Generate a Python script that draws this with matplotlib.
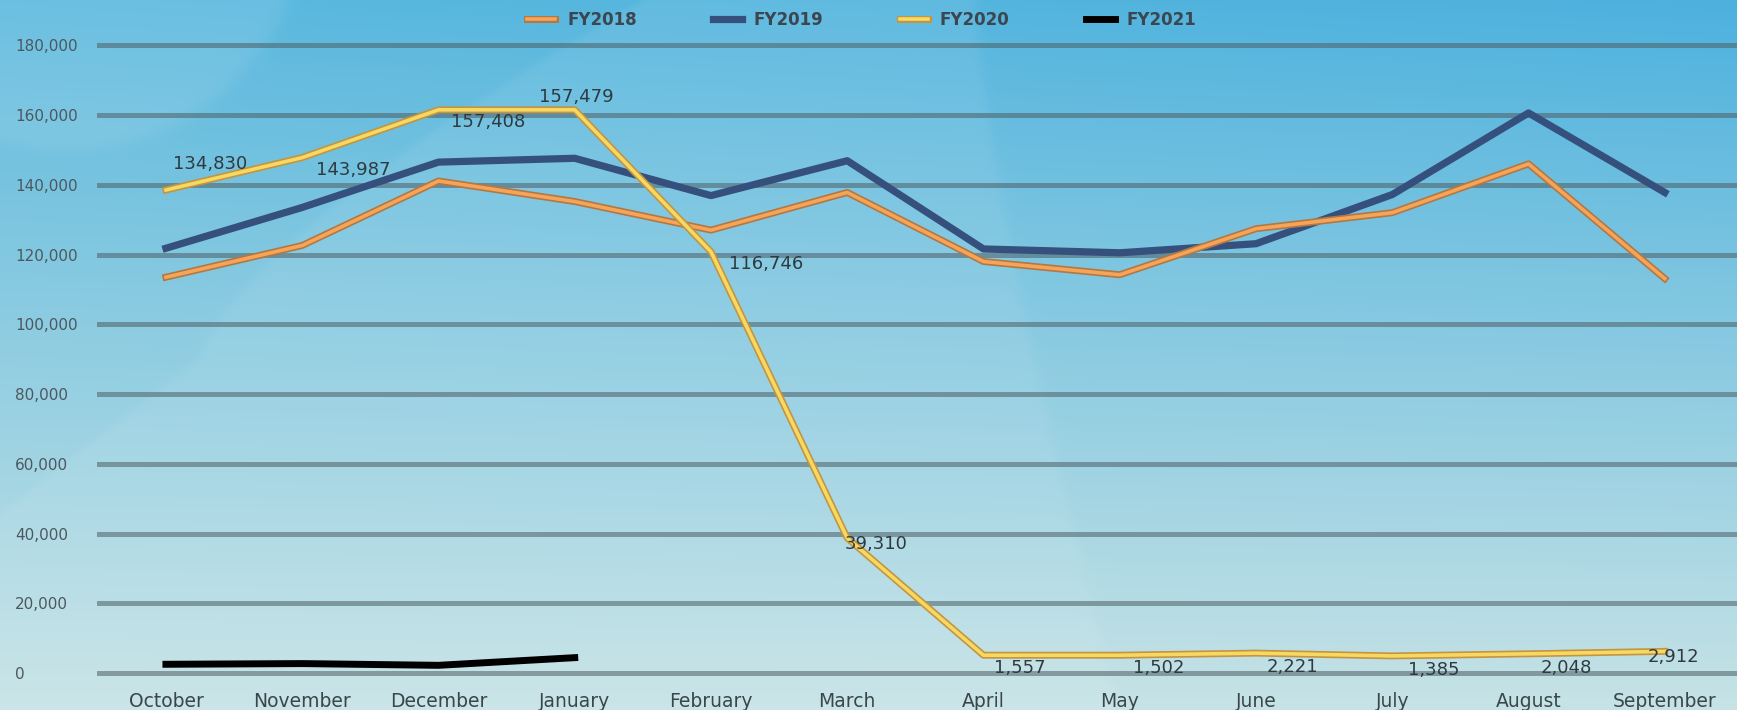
import numpy as np
import matplotlib
matplotlib.use('Agg')
import matplotlib.pyplot as plt
import matplotlib.patheffects as pe

# ---------------- data ----------------
months = ['October', 'November', 'December', 'January', 'February', 'March',
          'April', 'May', 'June', 'July', 'August', 'September']
fy2018 = [113500, 122600, 141100, 135200, 127000, 137800,
          118000, 114200, 127400, 132000, 146000, 113100]
fy2019 = [121800, 133500, 146500, 147600, 136900, 146900,
          121600, 120500, 123100, 137200, 160600, 137800]
fy2020 = [138500, 147800, 161500, 161500, 120800, 38700,
          5100, 5100, 5700, 4900, 5500, 6200]
fy2020_labels = ['134,830', '143,987', '157,408', '157,479', '116,746', '39,310',
                 '1,557', '1,502', '2,221', '1,385', '2,048', '2,912']
fy2021 = [2500, 2700, 2200, 4400]
yticks = list(range(0, 180001, 20000))

# label offsets (points) - styling
label_offsets = [(32, 19), (37, -9), (36, -9), (1, 9), (40, -9), (21, -4),
                 (26, -9), (28, -9), (26, -10), (30, -10), (27, -10), (6, -4)]

W, H = 1737, 710
fig = plt.figure(figsize=(W / 100, H / 100), dpi=100)

# ---------------- background ----------------
yy, xx = np.mgrid[0:H, 0:W].astype(float)
t = yy / (H - 1)
top = np.array([0.33, 0.71, 0.87])
bot = np.array([0.78, 0.89, 0.90])
img = top * (1 - t)[..., None] + bot * t[..., None]
img[..., 0] += 0.06 * (1 - t) * (0.5 - xx / W)
img[..., 1] += 0.03 * (1 - t) * (0.5 - xx / W)
s = 1.1078
xs, ys = xx / s, yy / s

def sig(z):
    return 1.0 / (1.0 + np.exp(-np.clip(z, -50, 50)))

# top-left light disc
d = np.sqrt((xs - 60) ** 2 + (ys + 80) ** 2) - 215
m = sig(-d / 4)
img += (m * 0.10)[..., None] * (1 - img)
# big light lens
xr = 880 + 130 * (ys / 641) ** 1.3
xl = np.where(ys < 323, 180 + 400 * np.clip(1 - ys / 323, 0, 1) ** 1.4,
              180 - 180 * (ys - 323) / 140)
m = sig((xs - xl) / 3) * sig((xr - xs) / 3)
img += (m * 0.07)[..., None] * (1 - img)
img = np.clip(img, 0, 1)

axbg = fig.add_axes([0, 0, 1, 1], zorder=-5)
axbg.imshow(img, aspect='auto', extent=(0, W, H, 0), interpolation='bilinear')
axbg.set_axis_off()

# ---------------- main axes ----------------
ymin, ymax = -2000, 184000
pxu = 627.7 / 180000
bottom_px = 673 + (0 - ymin) * pxu
top_px = 673 - ymax * pxu
left = 97 / W
ax = fig.add_axes([left, 1 - bottom_px / H, 1 - left, (bottom_px - top_px) / H], zorder=1)
ax.set_facecolor('none')
ax.set_xlim(-0.506, 11.53)
ax.set_ylim(ymin, ymax)
for sp in ax.spines.values():
    sp.set_visible(False)

ax.set_yticks(yticks, labels=[f'{v:,}' for v in yticks])
ax.yaxis.grid(True, color='#4d5f66', alpha=0.55, lw=3.6)
ax.set_axisbelow(True)
ax.tick_params(axis='y', length=0, pad=59, labelsize=11, labelcolor='#4c585e')
for lbl in ax.get_yticklabels():
    lbl.set_horizontalalignment('left')

x = np.arange(len(months))
ax.set_xticks(x, labels=months)
ax.tick_params(axis='x', length=0, pad=9, labelsize=13.5, labelcolor='#3a464c')

l18, = ax.plot(x, fy2018, color='#f5a459', lw=2.6, zorder=3, label='FY2018',
               path_effects=[pe.Stroke(linewidth=5, foreground='#b27842'), pe.Normal()])
l19, = ax.plot(x, fy2019, color='#35507c', lw=5.2, zorder=2, label='FY2019')
l20, = ax.plot(x, fy2020, color='#f6d862', lw=2.6, zorder=4, label='FY2020',
               path_effects=[pe.Stroke(linewidth=5, foreground='#c39540'), pe.Normal()])
l21, = ax.plot(x[:len(fy2021)], fy2021, color='#000000', lw=5, zorder=5, label='FY2021')

for xi, v, txt, off in zip(x, fy2020, fy2020_labels, label_offsets):
    ax.annotate(txt, (xi, v), xytext=off, textcoords='offset points',
                ha='center', va='center', fontsize=13, color='#2e3a40', zorder=6)

fig.legend(handles=[l18, l19, l20, l21], loc='center', bbox_to_anchor=(0.496, 0.972),
           ncol=4, frameon=False, handlelength=1.7, handletextpad=0.7,
           columnspacing=4.6, prop={'size': 12, 'weight': 'bold'}, labelcolor='#3b4650')

fig.savefig('out.png', dpi=100)
